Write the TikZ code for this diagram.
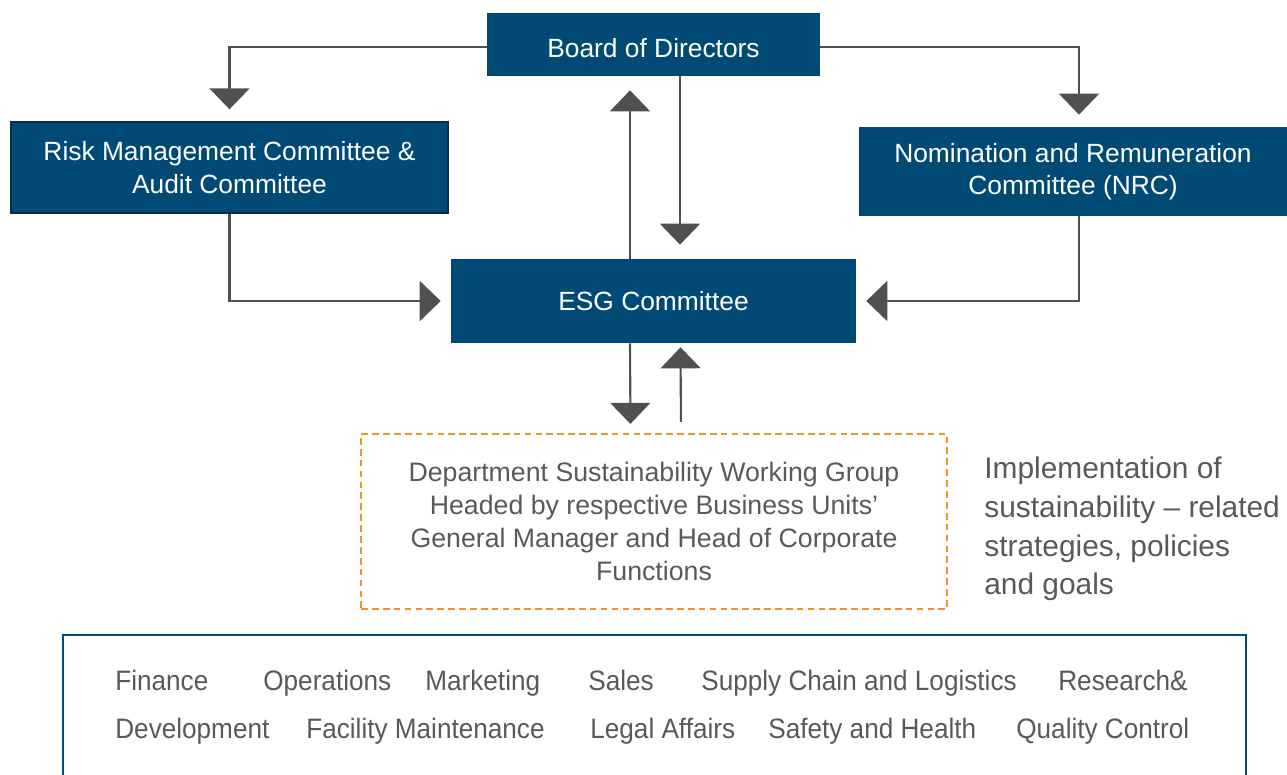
\documentclass[tikz,border=0pt]{standalone}
\usepackage{fontspec}
\setmainfont{Liberation Sans}
\newfontfamily\unitfont[FakeStretch=0.93]{Liberation Sans}
\usetikzlibrary{arrows.meta}

\definecolor{boxblue}{RGB}{0,74,117}
\definecolor{edgeblue}{RGB}{12,45,72}
\definecolor{arrowgray}{RGB}{80,80,80}
\definecolor{textgray}{RGB}{89,89,89}
\definecolor{dashorange}{RGB}{244,146,42}

\begin{document}
\begin{tikzpicture}[x=0.02cm,y=-0.02cm]

\tikzstyle{comm}=[fill=boxblue,text=white,align=center,inner sep=0pt,font=\fontsize{15}{18.5}\selectfont];
\tikzstyle{arr}=[draw=arrowgray,line width=1.2pt,-{Triangle[width=0.8cm,length=0.42cm]}];
\tikzstyle{dept}=[draw=dashorange,line width=1.3pt,dash pattern=on 3.8pt off 2.4pt,text=textgray,align=center,inner sep=0pt,font=\fontsize{15.2}{18.8}\selectfont];
\tikzstyle{unit}=[anchor=base west,inner sep=0pt,text=textgray,font=\unitfont\fontsize{16}{18}\selectfont];

\useasboundingbox (0,0) rectangle (1287,774);

% Draw the committees
\node[comm,text height=0.52cm,minimum width=6.66cm,minimum height=1.26cm] (board) at (653.5,44.5) {Board of Directors};
\node[comm,draw=edgeblue,line width=0.8pt,minimum width=8.74cm,minimum height=1.82cm] (risk) at (229.5,167.5) {Risk Management Committee \&\\Audit Committee};
\node[comm,minimum width=8.56cm,minimum height=1.78cm] (nrc) at (1073,171.5) {Nomination and Remuneration\\Committee (NRC)};
\node[comm,minimum width=8.1cm,minimum height=1.68cm] (esg) at (653.5,301) {ESG Committee};

% Working group and its task
\node[dept,minimum width=11.72cm,minimum height=3.5cm] (group) at (654,521.5) {Department Sustainability Working Group\\Headed by respective Business Units'\\General Manager and Head of Corporate\\Functions};
\node[anchor=west,inner sep=0pt,text=textgray,align=left,font=\fontsize{17}{22}\selectfont] (impl) at (984,529) {Implementation of\\sustainability -- related\\strategies, policies\\and goals};

% Links between the committees
\draw[arr,shorten >=0.24cm] ([yshift=-0.05cm]board.west) -| (risk.north);
\draw[arr,shorten >=0.24cm] ([yshift=-0.05cm]board.east) -| ([xshift=0.12cm]nrc.north);
\draw[arr,shorten >=0.28cm] ([xshift=0.53cm]board.south) -- ([xshift=0.53cm]esg.north);
\draw[arr,shorten >=0.28cm] ([xshift=-0.47cm]esg.north) -- ([xshift=-0.47cm]board.south);
\draw[arr,shorten >=0.2cm] (risk.south) |- (esg.west);
\draw[arr,shorten >=0.2cm] ([xshift=0.12cm]nrc.south) |- (esg.east);
\draw[arr,shorten >=0.18cm] ([xshift=-0.47cm]esg.south) -- ([xshift=-0.47cm]group.north);
\draw[arr,shorten <=0.22cm,shorten >=0.08cm] ([xshift=0.54cm]group.north) -- ([xshift=0.54cm]esg.south);

% Business units at the bottom
\draw[boxblue,line width=1.3pt] (63,780) -- (63,635) -- (1246,635) -- (1246,780);
\foreach \x/\name [count=\idx] in {115/Finance,263/Operations,425/Marketing,588/Sales,701/Supply Chain and Logistics,1058/Research\&}
  \node[unit] (u\idx) at (\x,690) {\name};
\foreach \x/\name [count=\idx] in {115/Development,306/Facility Maintenance,590/Legal Affairs,768/Safety and Health,1016/Quality Control}
  \node[unit] (v\idx) at (\x,738) {\name};

\end{tikzpicture}
\end{document}
